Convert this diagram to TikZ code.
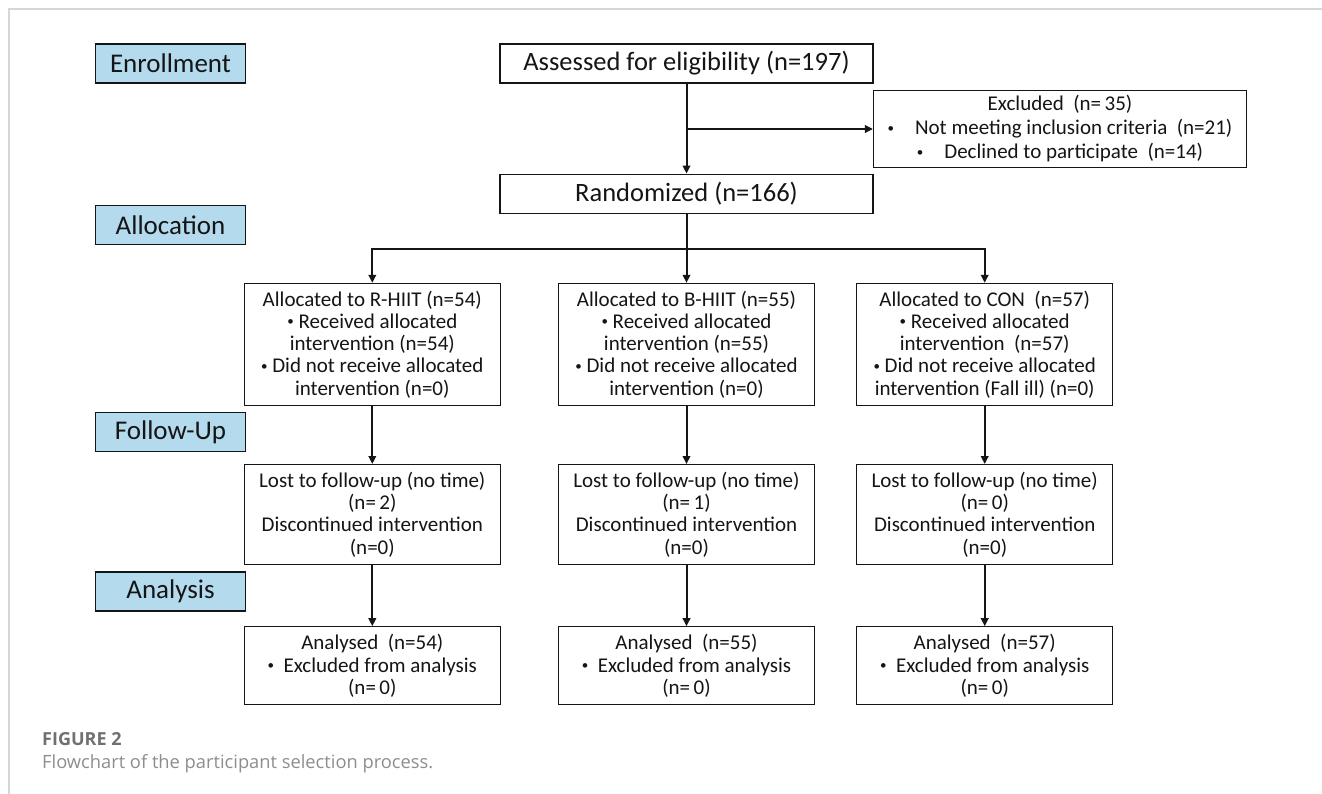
\documentclass[tikz,border=0pt]{standalone}
\usepackage{fontspec}
\setmainfont{Carlito}
\newfontfamily\capfont{Open Sans}
\usetikzlibrary{arrows.meta,positioning}
\definecolor{ink}{HTML}{151515}
\definecolor{phaseblue}{HTML}{B4DAEE}
\definecolor{frameline}{HTML}{D6D6D6}
\definecolor{capgray}{HTML}{707070}
\newcommand{\blt}{\raisebox{2.5pt}{\fontsize{13}{13}\selectfont\textbullet}}
\tikzset{
  box/.style={draw=ink,line width=1.2pt,fill=white,inner sep=0pt,align=center,
              text=ink,font=\fontsize{21}{22.3}\selectfont},
  phasebox/.style={box,fill=phaseblue,minimum width=150pt,minimum height=39pt,
                   font=\fontsize{27}{30}\selectfont},
  mainbox/.style={box,minimum width=373pt,minimum height=39pt,font=\fontsize{26.5}{30}\selectfont},
  armbox/.style={box,minimum width=256pt},
  flow/.style={-{Triangle[length=8pt,width=7.5pt]},line width=2pt,draw=ink},
  captext/.style={anchor=base west,inner sep=0pt,text=capgray}
}

\begin{document}
\begin{tikzpicture}[x=1pt,y=-1pt,node distance=58pt and 57pt]
  \useasboundingbox (0,0) rectangle (1322,794);
  \draw[frameline,line width=1.5pt] (9,794) -- (9,9) -- (1322,9);
  % phase labels
  \node[phasebox] (enrol) at (170.5,63.5) {Enrollment};
  \node[phasebox] (alloc) at (170.5,225) {Allocation};
  \node[phasebox] (follow) at (170.5,432) {Follow-Up};
  \node[phasebox] (analysis) at (170.5,591.5) {Analysis};
  % enrollment
  \node[mainbox] (assess) at (686.5,63.5) {Assessed for eligibility (n=197)};
  \node[box,minimum width=373pt,minimum height=77pt,font=\fontsize{21}{24}\selectfont] (excl) at (1060,129)
    {Excluded\ \ (n=\,35)\\ \blt\quad Not meeting inclusion criteria\ \ (n=21)\\ \blt\quad Declined to participate\ \ (n=14)};
  \node[mainbox,below=90pt of assess] (rand) {Randomized (n=166)};
  % arms
  \node[armbox,minimum height=122pt,below=69pt of rand] (allocB)
    {Allocated to B-HIIT (n=55)\\ \blt\ Received allocated\\ intervention (n=55)\\ \blt\ Did not receive allocated\\ intervention (n=0)};
  \node[armbox,minimum height=122pt,left=57pt of allocB] (allocR)
    {Allocated to R-HIIT (n=54)\\ \blt\ Received allocated\\ intervention (n=54)\\ \blt\ Did not receive allocated\\ intervention (n=0)};
  \node[armbox,minimum height=122pt,right=41pt of allocB] (allocC)
    {Allocated to CON\ \ (n=57)\\ \blt\ Received allocated\\ intervention\ \ (n=57)\\ \blt\ Did not receive allocated\\ intervention (Fall ill) (n=0)};
  \node[armbox,minimum height=100pt,below=of allocR] (fuR)
    {Lost to follow-up (no time)\\ (n=\,2)\\ Discontinued intervention\\ (n=0)};
  \node[armbox,minimum height=100pt,below=of allocB] (fuB)
    {Lost to follow-up (no time)\\ (n=\,1)\\ Discontinued intervention\\ (n=0)};
  \node[armbox,minimum height=100pt,below=of allocC] (fuC)
    {Lost to follow-up (no time)\\ (n=\,0)\\ Discontinued intervention\\ (n=0)};
  \node[armbox,minimum height=78pt,below=61pt of fuR] (anR)
    {Analysed\ \ (n=54)\\ \blt\ \ Excluded from analysis\\ (n=\,0)};
  \node[armbox,minimum height=78pt,below=61pt of fuB] (anB)
    {Analysed\ \ (n=55)\\ \blt\ \ Excluded from analysis\\ (n=\,0)};
  \node[armbox,minimum height=78pt,below=61pt of fuC] (anC)
    {Analysed\ \ (n=57)\\ \blt\ \ Excluded from analysis\\ (n=\,0)};
  % connectors
  \draw[flow] (assess) -- (rand);
  \draw[flow] (assess.south |- excl.west) -- (excl.west);
  \draw[line width=2pt,draw=ink] (rand.south) -- ++(0,35) coordinate (fork);
  \draw[flow] (fork) -| (allocR.north);
  \draw[flow] (fork) -| (allocC.north);
  \draw[flow] (fork) -- (allocB);
  \draw[flow] (allocR) -- (fuR); \draw[flow] (allocB) -- (fuB); \draw[flow] (allocC) -- (fuC);
  \draw[flow] (fuR) -- (anR); \draw[flow] (fuB) -- (anB); \draw[flow] (fuC) -- (anC);
  % caption
  \node[captext,font=\capfont\bfseries\fontsize{18}{21}\selectfont] (figlabel) at (42,745) {FIGURE 2};
  \node[captext,font=\capfont\fontsize{18.3}{21}\selectfont,text=capgray!80] (figtext) at (42,768)
    {Flowchart of the participant selection process.};
\end{tikzpicture}
\end{document}
